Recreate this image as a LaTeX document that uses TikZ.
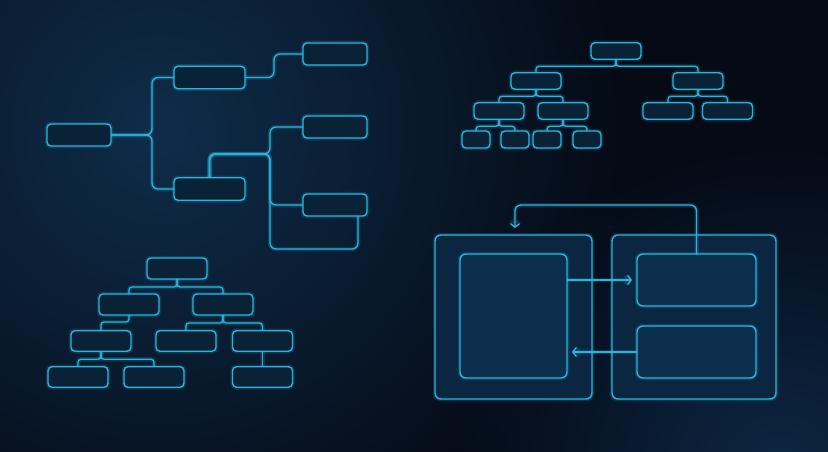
\documentclass[tikz,border=0pt]{standalone}
\usetikzlibrary{arrows.meta,calc,positioning,fadings}
\definecolor{bgdark}{HTML}{050A15}
\definecolor{bglight}{HTML}{0F2D4A}
\definecolor{bgglow}{HTML}{0D2744}
\definecolor{neon}{HTML}{2BB5DE}
\definecolor{boxfill}{HTML}{0A2236}
\definecolor{panelfill}{HTML}{0A2640}
\definecolor{cardfill}{HTML}{0C2F4D}
\tikzfading[name=glowfade, inner color=transparent!0, outer color=transparent!100]
\tikzstyle{glow} = [preaction={draw=neon, line width=4.5pt, draw opacity=0.18}]
\tikzstyle{mbox} = [rectangle, rounded corners=4pt, draw=neon, line width=1.4pt, fill=boxfill, inner sep=0pt, outer sep=0pt, glow]
\tikzstyle{tbox} = [mbox, minimum width=50, minimum height=16.5]
\tikzstyle{tsmall} = [mbox, minimum width=28, minimum height=17]
\tikzstyle{bbox} = [mbox, minimum width=60, minimum height=20.5]
\tikzstyle{panel} = [mbox, rounded corners=6pt, fill=panelfill]
\tikzstyle{card} = [mbox, rounded corners=6pt, fill=cardfill]
\tikzstyle{link} = [draw=neon, line width=1.3pt, rounded corners=6pt, glow]
\tikzstyle{tlink} = [link, rounded corners=3pt]
\tikzstyle{flow} = [link, -{Straight Barb[length=3.5pt,width=9pt]}]

\begin{document}
\begin{tikzpicture}[x=1pt,y=-1pt]
      \useasboundingbox (0,0) rectangle (828,452);
      % background
      \fill[bgdark] (0,0) rectangle (828,452);
      \begin{scope}
        \clip (0,0) rectangle (828,452);
        \fill[bglight, path fading=glowfade] (160,130) circle (470);
        \fill[bgglow, path fading=glowfade] (780,470) circle (330);
      \end{scope}
      % mind map
      \node[mbox, minimum width=64, minimum height=22] (mroot) at (79,135) {};
      \node[mbox, minimum width=71, minimum height=22.5] (m1) at (209.5,77.5) {};
      \node[mbox, minimum width=71, minimum height=22.5] (m2) at (209.5,189) {};
      \node[mbox, minimum width=64, minimum height=22] (m11) at (335,54) {};
      \node[mbox, minimum width=64, minimum height=22] (m21) at (335,127) {};
      \node[mbox, minimum width=64, minimum height=22] (m22) at (335,205) {};
      \coordinate (j1) at (152,135);
      \coordinate (j2) at (270,154);
      \coordinate (j3) at (358,249);
      \draw[link] (mroot.east) -- (j1) |- (m1.west);
      \draw[link] (mroot.east) -- (j1) |- (m2.west);
      \draw[link] (m1.east) -| ($(m1.east)!0.5!(m11.west)$) |- (m11.west);
      \draw[link] (m2.north) |- (j2) |- (m21.west);
      \draw[link] (m2.north) |- (j2) |- (m22.west);
      \draw[link] (m2.north) |- (j2) |- (j3) -- (j3 |- m22.south);
      % tree top right
      \node[tbox] (t0) at (616,51) {};
      \node[tbox] (t1) at (536,81) {};
      \node[tbox] (t2) at (698,81) {};
      \node[tbox] (t11) at (499,111) {};
      \node[tbox] (t12) at (563,111) {};
      \node[tbox] (t21) at (668,111) {};
      \node[tbox] (t22) at (727.5,111) {};
      \node[tsmall] (t111) at (476,139.5) {};
      \node[tsmall] (t112) at (515,139.5) {};
      \node[tsmall] (t121) at (547,139.5) {};
      \node[tsmall] (t122) at (587,139.5) {};
      \draw[tlink] (t0.south) -- ++(0,7) -| (t1.north);
      \draw[tlink] (t0.south) -- ++(0,7) -| (t2.north);
      \draw[tlink] (t1.south) -- ++(0,7) -| (t11.north);
      \draw[tlink] (t1.south) -- ++(0,7) -| (t12.north);
      \draw[tlink] (t2.south) -- ++(0,7) -| (t21.north);
      \draw[tlink] (t2.south) -- ++(0,7) -| (t22.north);
      \draw[tlink] (t11.south) -- ++(0,7) -| (t111.north);
      \draw[tlink] (t11.south) -- ++(0,7) -| (t112.north);
      \draw[tlink] (t12.south) -- ++(0,7) -| (t121.north);
      \draw[tlink] (t12.south) -- ++(0,7) -| (t122.north);
      % tree bottom left
      \node[bbox, minimum height=21] (b0) at (177,268.5) {};
      \node[bbox, minimum height=21] (b1) at (129,304.5) {};
      \node[bbox, minimum height=21] (b2) at (223,304.5) {};
      \node[bbox] (b11) at (101,341) {};
      \node[bbox] (b21) at (186,341) {};
      \node[bbox] (b22) at (262.5,341) {};
      \node[bbox] (b111) at (78,377) {};
      \node[bbox] (b112) at (154,377) {};
      \node[bbox] (b221) at (262.5,377) {};
      \draw[tlink] (b0.south) -- ++(0,8) -| (b1.north);
      \draw[tlink] (b0.south) -- ++(0,8) -| (b2.north);
      \draw[tlink] (b1.south) -- ++(0,7) -| (b11.north);
      \draw[tlink] (b2.south) -- ++(0,8) -| (b21.north);
      \draw[tlink] (b2.south) -- ++(0,8) -| (b22.north);
      \draw[tlink] (b11.south) -- ++(0,8) -| (b111.north);
      \draw[tlink] (b11.south) -- ++(0,8) -| (b112.north);
      \draw[tlink] (b22.south) -- (b221.north);
      % panels bottom right
      \node[panel, minimum width=157, minimum height=164] (pa) at (513.5,317) {};
      \node[panel, minimum width=164, minimum height=164] (pb) at (694,317) {};
      \node[card, minimum width=107, minimum height=124] (ca) at (513.5,316) {};
      \node[card, minimum width=119, minimum height=52] (cb1) at (696.5,280) {};
      \node[card, minimum width=119, minimum height=52] (cb2) at (696.5,352) {};
      \coordinate (fb) at (515,205);
      \draw[flow] (cb1.north) |- (fb) -- ($(fb |- pa.north)+(0,-7)$);
      \draw[flow] (ca.east |- cb1.west) -- ($(cb1.west)+(-5,0)$);
      \draw[flow] (cb2.west) -- ($(ca.east |- cb2.west)+(5,0)$);
\end{tikzpicture}
\end{document}
